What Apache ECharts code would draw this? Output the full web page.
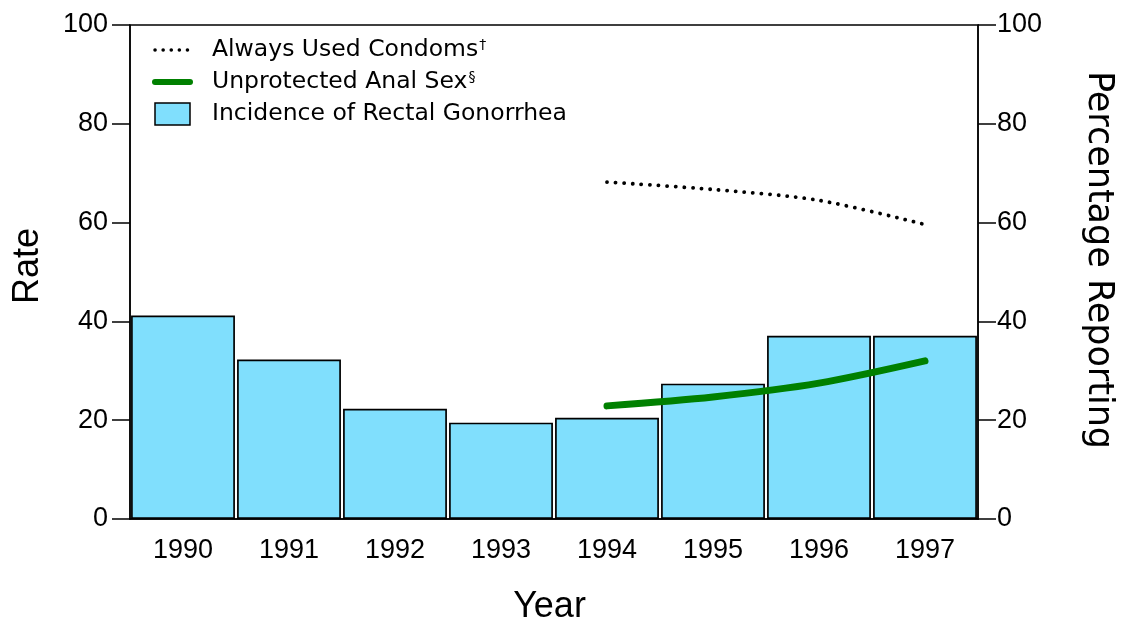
<!DOCTYPE html>
<html>
<head>
<meta charset="utf-8">
<script src="https://cdn.jsdelivr.net/npm/echarts@6/dist/echarts.min.js"></script>
<style>
  html, body { margin: 0; padding: 0; background: #fff; }
  #chart { width: 1124px; height: 622px; }
</style>
</head>
<body>
<div id="chart"></div>
<script>
var years = ['1990', '1991', '1992', '1993', '1994', '1995', '1996', '1997'];
var gonorrheaRate = [41.2, 32.3, 22.3, 19.5, 20.5, 27.4, 37.1, 37.1];
var alwaysCondoms = [null, null, null, null, 68.2, 66.7, 64.5, 59.6];
var unprotectedSex = [null, null, null, null, 22.9, 24.7, 27.5, 32.0];
var yTicks = [0, 20, 40, 60, 80, 100];

var font = 'Liberation Sans';
// both y axes share the 0-100 scale
function axisY(name, pos, rotate, gap, nameStyle, margin) {
    return {
        type: 'value',
        position: pos,
        min: yTicks[0],
        max: yTicks[yTicks.length - 1],
        interval: 20,
        name: name,
        nameLocation: 'middle',
        nameRotate: rotate,
        nameGap: gap,
        nameTextStyle: nameStyle,
        axisLine: { show: true, lineStyle: { color: '#000', width: 1.5 } },
        axisTick: { show: true, length: 18, lineStyle: { color: '#000', width: 1.5 } },
        axisLabel: { fontFamily: font, fontSize: 27, color: '#000', margin: margin },
        splitLine: { show: false }
    };
}

var chart = echarts.init(document.getElementById('chart'));
chart.setOption({
    animation: false,
    grid: {
        left: 130, right: 146, top: 25, bottom: 103,
        outerBoundsMode: 'none',
        containLabel: false,
        show: true, borderColor: '#000', borderWidth: 1.5
    },
    legend: {
        orient: 'vertical',
        left: 152,
        top: 38,
        padding: 0,
        itemWidth: 35,
        itemHeight: 22,
        itemGap: 8,
        data: [
            {
                name: 'Always Used Condoms',
                itemStyle: { opacity: 0 },
                lineStyle: { color: '#000', width: 3.5, type: [0.1, 8], cap: 'round' }
            },
            {
                name: 'Unprotected Anal Sex',
                itemStyle: { opacity: 0 },
                lineStyle: { color: '#008000', width: 6, cap: 'round' }
            },
            {
                name: 'Incidence of Rectal Gonorrhea',
                icon: 'rect',
                itemStyle: { color: '#80dffd', borderColor: '#000', borderWidth: 1.5 }
            }
        ],
        formatter: function (n) {
            if (n === 'Always Used Condoms') return '{t|' + n + '}{s|†}';
            if (n === 'Unprotected Anal Sex') return '{t|' + n + '}{s|§}';
            return '{t|' + n + '}';
        },
        textStyle: {
            fontFamily: 'DejaVu Sans', fontSize: 23.5, color: '#000', padding: [0, 0, 0, 17],
            rich: {
                t: { fontFamily: 'DejaVu Sans', fontSize: 23.5, color: '#000' },
                s: { fontFamily: 'DejaVu Sans', fontSize: 14, color: '#000', verticalAlign: 'top', padding: [0, 0, 10, 1] }
            }
        }
    },
    xAxis: {
        type: 'category',
        data: years,
        name: 'Year',
        nameLocation: 'middle',
        nameGap: 70,
        nameTextStyle: { fontFamily: font, fontSize: 36, color: '#000', padding: [0, 9, 0, 0] },
        axisLine: { lineStyle: { color: '#000', width: 1.5 } },
        axisTick: { alignWithLabel: true, length: 13, lineStyle: { color: '#000', width: 1.5 } },
        axisLabel: { fontFamily: font, fontSize: 27, color: '#000', margin: 18 }
    },
    yAxis: [
        axisY('Rate', 'left', 90, 84,
            { fontFamily: font, fontSize: 36, color: '#000', padding: [0, 0, 0, 12] }, 22),
        axisY('Percentage Reporting', 'right', -90, 103,
            { fontFamily: 'DejaVu Sans', fontSize: 35, color: '#000', padding: [0, 24, 0, 0] }, 19)
    ],
    series: [
        {
            name: 'Incidence of Rectal Gonorrhea',
            type: 'bar',
            data: gonorrheaRate,
            barWidth: '98%',
            itemStyle: { color: '#80dffd', borderColor: '#000', borderWidth: 1.7 }
        },
        {
            name: 'Always Used Condoms',
            type: 'line',
            yAxisIndex: 1,
            data: alwaysCondoms,
            smooth: 0.3,
            symbol: 'none',
            lineStyle: { color: '#000', width: 3.8, type: [0.1, 8.5], cap: 'round' },
            itemStyle: { color: '#000' }
        },
        {
            name: 'Unprotected Anal Sex',
            type: 'line',
            yAxisIndex: 1,
            data: unprotectedSex,
            smooth: 0.3,
            symbol: 'none',
            lineStyle: { color: '#008000', width: 7, cap: 'round' },
            itemStyle: { color: '#008000' }
        }
    ]
});
</script>
</body>
</html>
